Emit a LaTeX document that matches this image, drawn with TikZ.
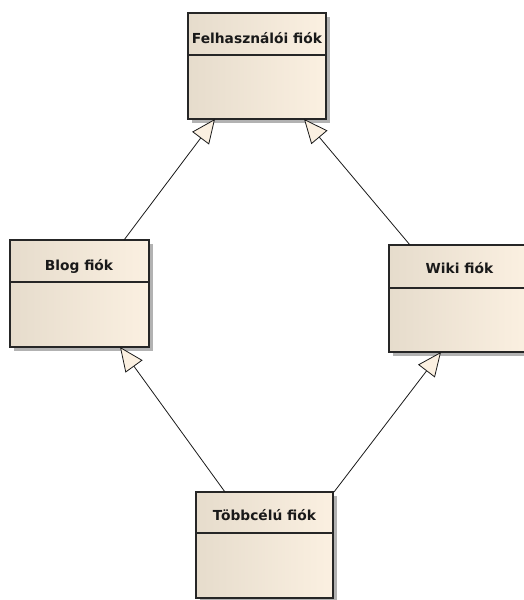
\documentclass[tikz,border=0pt]{standalone}
\usepackage{fontspec}
\setmainfont{DejaVu Sans}
\usetikzlibrary{arrows.meta,shadows}
\definecolor{boxL}{HTML}{E6DCCC}
\definecolor{boxR}{HTML}{FBF0E1}
\definecolor{tipfill}{HTML}{FBF0E1}
\begin{document}
\begin{tikzpicture}[x=1pt,y=-1pt,
  classbox/.style={draw=black!85, line width=1.1pt, rectangle, inner sep=0pt,
    left color=boxL, right color=boxR,
    drop shadow={shadow xshift=4pt, shadow yshift=-4pt, fill=black!30, opacity=1}},
  title/.style={anchor=base, font=\fontsize{13.8}{17}\selectfont\bfseries, text=black!90, inner sep=0pt},
  divider/.style={draw=black!85, line width=1.1pt},
  gen/.style={draw=black!90, line width=0.8pt,
    -{Triangle[open, length=24pt, width=21pt, fill=tipfill]}}]
\useasboundingbox (0,0) rectangle (524,600);
% boxes
\node[classbox, minimum width=138pt, minimum height=106pt] (felh) at (257,66) {};
\node[classbox, minimum width=139pt, minimum height=107pt] (blog) at (79.5,293.5) {};
\node[classbox, minimum width=139pt, minimum height=107pt] (wiki) at (458.5,298.5) {};
\node[classbox, minimum width=137pt, minimum height=106pt] (tobb) at (264.5,545) {};
% dividers
\draw[divider] (felh.west |- 0,55) -- (felh.east |- 0,55);
\draw[divider] (blog.west |- 0,282) -- (blog.east |- 0,282);
\draw[divider] (wiki.west |- 0,288) -- (wiki.east |- 0,288);
\draw[divider] (tobb.west |- 0,533) -- (tobb.east |- 0,533);
% titles
\node[title] (tfelh) at (257,43) {Felhasználói fiók};
\node[title] (tblog) at (79,270) {Blog fiók};
\node[title] (twiki) at (459.5,273) {Wiki fiók};
\node[title] (ttobb) at (264.5,520) {Többcélú fiók};
% connector end points
\coordinate (blogTop) at (124,240);
\coordinate (felhL) at (215,119);
\coordinate (wikiTop) at (410,245);
\coordinate (felhR) at (304,119);
\coordinate (tobbL) at (225,492);
\coordinate (blogBot) at (120,347);
\coordinate (tobbR) at (334,492);
\coordinate (wikiBot) at (441,352);
% generalizations
\draw[gen] (blogTop) -- (felhL);
\draw[gen] (wikiTop) -- (felhR);
\draw[gen] (tobbL) -- (blogBot);
\draw[gen] (tobbR) -- (wikiBot);
\end{tikzpicture}
\end{document}
